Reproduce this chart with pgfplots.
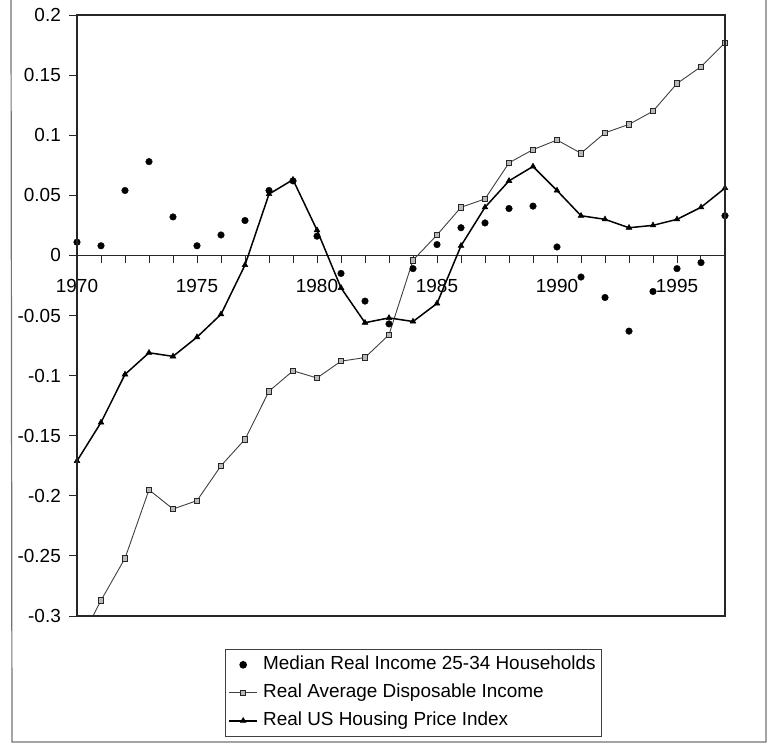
\documentclass[border=0pt]{standalone}
\usepackage{fontspec}
\setmainfont{Liberation Sans}
\usepackage{pgfplots}
\pgfplotsset{compat=1.18}
\pgfplotstableread{
year median disp house
1970 0.011 -0.326 -0.171
1971 0.008 -0.287 -0.139
1972 0.054 -0.252 -0.099
1973 0.078 -0.195 -0.081
1974 0.032 -0.211 -0.084
1975 0.008 -0.204 -0.068
1976 0.017 -0.175 -0.049
1977 0.029 -0.153 -0.008
1978 0.054 -0.113 0.051
1979 0.062 -0.096 0.063
1980 0.016 -0.102 0.021
1981 -0.015 -0.088 -0.027
1982 -0.038 -0.085 -0.056
1983 -0.057 -0.066 -0.052
1984 -0.011 -0.004 -0.055
1985 0.009 0.017 -0.040
1986 0.023 0.040 0.008
1987 0.027 0.047 0.040
1988 0.039 0.077 0.062
1989 0.041 0.088 0.074
1990 0.007 0.096 0.054
1991 -0.018 0.085 0.033
1992 -0.035 0.102 0.030
1993 -0.063 0.109 0.023
1994 -0.030 0.120 0.025
1995 -0.011 0.143 0.030
1996 -0.006 0.157 0.040
1997 0.033 0.177 0.056
}\datatable
\begin{document}
\begin{tikzpicture}
\useasboundingbox (0bp,0bp) rectangle (769bp,745bp);
\draw[black!55, line width=1.2bp] (11bp,745bp) -- (12bp,3bp) -- (766bp,3bp) -- (766bp,745bp);
\begin{axis}[
 name=ax,
 at={(77bp,129bp)}, anchor=south west,
 scale only axis, width=648bp, height=601bp,
 xmin=1970, xmax=1997, ymin=-0.3, ymax=0.2,
 axis x line*=middle, axis y line*=left,
 hide obscured x ticks=false, hide obscured y ticks=false,
 axis line style={black!85, line width=1.1bp},
 xtick={1970,1975,1980,1985,1990,1995},
 xticklabels={1970,1975,1980,1985,1990,1995},
 minor xtick={1971,...,1997},
 ytick={-0.3,-0.25,-0.2,-0.15,-0.1,-0.05,0,0.05,0.1,0.15,0.2},
 yticklabels={-0.3,-0.25,-0.2,-0.15,-0.1,-0.05,0,0.05,0.1,0.15,0.2},
 tick align=outside,
 major tick length=8bp, minor tick length=8bp,
 xtick style={draw=black!85, line width=0.9bp},
 ytick style={draw=black!85, line width=0.9bp},
 tick label style={font=\fontsize{19}{22}\selectfont, text=black},
 xticklabel style={anchor=north, inner sep=0pt, yshift=-16bp},
 yticklabel style={anchor=east, inner sep=0pt, xshift=-8bp},
 legend cell align=left,
 legend image code/.code={\draw[mark repeat=2,mark phase=2] plot coordinates {(0cm,0cm) (0.5cm,0cm) (1cm,0cm)};},
 legend style={at={(0.228,-0.055)}, anchor=north west, draw=black!75, line width=1bp, fill=white,
   inner xsep=3bp, inner ysep=6bp, font=\fontsize{19}{22}\selectfont, row sep=9.5bp,
   nodes={inner xsep=3bp, inner ysep=0.5bp, text height=13.5bp, text depth=4bp},
   /tikz/every odd column/.append style={column sep=2bp}},
]
\addplot[only marks, mark=*, mark size=3.3bp, black] table[x=year, y=median] {\datatable};
\addlegendentry{Median Real Income 25-34 Households}
\addplot[black!75, line width=0.9bp, mark=square*, mark size=2.7bp,
  mark options={fill=gray!55, draw=black!85, line width=0.8bp},
  mark indices={1,...,27},
  legend image code/.code={\draw[mark=none] (0cm,0cm) -- (1cm,0cm);
     \draw[only marks] plot coordinates {(0.5cm,0cm) (0.5cm,0cm)};}] table[x=year, y=disp] {\datatable};
\addlegendentry{Real Average Disposable Income}
\addplot[black, line width=1.5bp, mark=triangle*, mark size=3.3bp, mark options={line width=0.5bp}] table[x=year, y=house] {\datatable};
\addlegendentry{Real US Housing Price Index}
\end{axis}
\draw[black!85, line width=1.1bp] (ax.south west) rectangle (ax.north east);
\end{tikzpicture}
\end{document}
